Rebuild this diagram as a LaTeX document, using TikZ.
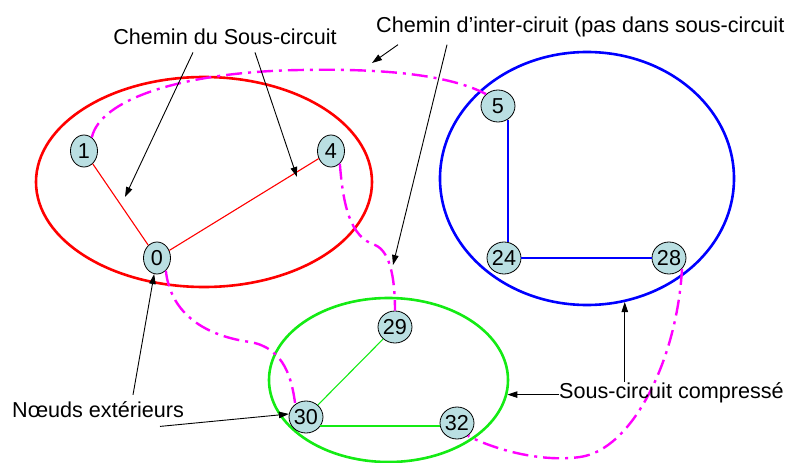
\documentclass[tikz,border=0pt]{standalone}
\usepackage{fontspec}
\setmainfont{Liberation Sans}
\usetikzlibrary{shapes.geometric, arrows.meta, positioning}

\definecolor{vertexfill}{RGB}{186,223,226}
\definecolor{subred}{RGB}{255,0,0}
\definecolor{subblue}{RGB}{0,0,255}
\definecolor{subgreen}{RGB}{20,235,20}
\definecolor{pathpink}{RGB}{255,0,255}

\tikzset{
  vertex/.style={ellipse, draw, fill=vertexfill, line width=0.8pt,
    minimum width=27pt, minimum height=32pt, inner sep=0pt},
  subcircuit/.style={ellipse, draw, line width=2.6pt, inner sep=0pt},
  intra/.style={line width=1.1pt},
  inter/.style={draw=pathpink, line width=2.4pt,
    dash pattern=on 16pt off 6pt on 3pt off 6pt},
  callout/.style={-{Triangle[length=10pt,width=6.5pt]}, line width=0.9pt},
  caption/.style={inner sep=0pt}
}

\begin{document}
\begin{tikzpicture}[x=1pt, y=-1pt, node distance=2cm, on grid,
    font=\fontsize{21.6}{26}\selectfont]
  \useasboundingbox (0,0) rectangle (788,463);

  % the three compressed sub-circuits
  \node[subcircuit, draw=subred, minimum width=336pt, minimum height=210pt] (redsub) at (204,182) {};
  \node[subcircuit, draw=subblue, minimum width=294pt, minimum height=253pt] (bluesub) at (587,178.5) {};
  \node[subcircuit, draw=subgreen, minimum width=239pt, minimum height=164pt] (greensub) at (388.5,380) {};

  % vertices
  \node[vertex] (1) at (84,151) {1};
  \node[vertex] (4) [right=247pt of 1] {4};
  \node[vertex] (0) at (157,258) {0};
  \node[vertex, minimum width=34pt] (5) at (498,106) {5};
  \node[vertex] (24) at (504,258) {24};
  \node[vertex] (28) [right=165pt of 24] {28};
  \node[vertex] (29) at (395,327) {29};
  \node[vertex] (30) at (306,417) {30};
  \node[vertex] (32) at (457,423) {32};

  % edges inside a sub-circuit
  \coordinate (foot5) at (508,119.5);
  \coordinate (foot30) at (320,426);
  \draw[intra, draw=subred] (1) -- (0) -- (4);
  \draw[intra, draw=subblue] (foot5) -- (foot5 |- 24.north);
  \draw[intra, draw=subblue] (24) -- (28);
  \draw[intra, draw=subgreen] (29) -- (30);
  \draw[intra, draw=subgreen] (foot30) -- (foot30 -| 32.west);

  % edges between sub-circuits
  \draw[inter] (1.60) .. controls (100,100) and (180,72) .. (300,70)
    .. controls (400,68) and (455,78) .. (5.135);
  \draw[inter] (4.-55) .. controls (343,205) and (350,237) .. (375,245)
    .. controls (392,252) and (395,285) .. (29.north);
  \draw[inter] (0.-55) .. controls (170,310) and (200,335) .. (250,342)
    .. controls (285,348) and (292,380) .. (30.130);
  \draw[inter] (28.-40) .. controls (677,360) and (632,450) .. (580,457)
    .. controls (545,462) and (500,452) .. (32.-50);

  % captions
  \node[caption, anchor=base] (lblsub) at (225,45) {Chemin du Sous-circuit};
  \node[caption, anchor=base west] (lblinter) at (376,32) {Chemin d’inter-ciruit (pas dans sous-circuit};
  \node[caption, anchor=base west] (lblext) at (12,417) {Nœuds extérieurs};
  \node[caption, anchor=base west] (lblcomp) at (559,398) {Sous-circuit compressé};

  \coordinate (intra10) at (125,197);
  \coordinate (intra04) at (297,177);
  \coordinate (inter15) at (372,63);
  \coordinate (inter429) at (393,265);

  \draw[callout] ([xshift=-32pt,yshift=-7pt]lblsub.south) -- (intra10);
  \draw[callout] ([xshift=30pt,yshift=-7pt]lblsub.south) -- (intra04);
  \draw[callout] ([xshift=22pt,yshift=-8pt]lblinter.south west) -- (inter15);
  \draw[callout] ([xshift=71pt,yshift=-8pt]lblinter.south west) -- (inter429);
  \draw[callout] ([xshift=121pt,yshift=6pt]lblext.north west) -- (0.-100);
  \draw[callout] ([xshift=148pt,yshift=-9pt]lblext.south west) -- (30.170);
  \draw[callout] (lblcomp.west |- greensub.-7) -- (greensub.-7);
  \draw[callout] (bluesub.-73 |- lblcomp.north) -- (bluesub.-73);
\end{tikzpicture}
\end{document}
